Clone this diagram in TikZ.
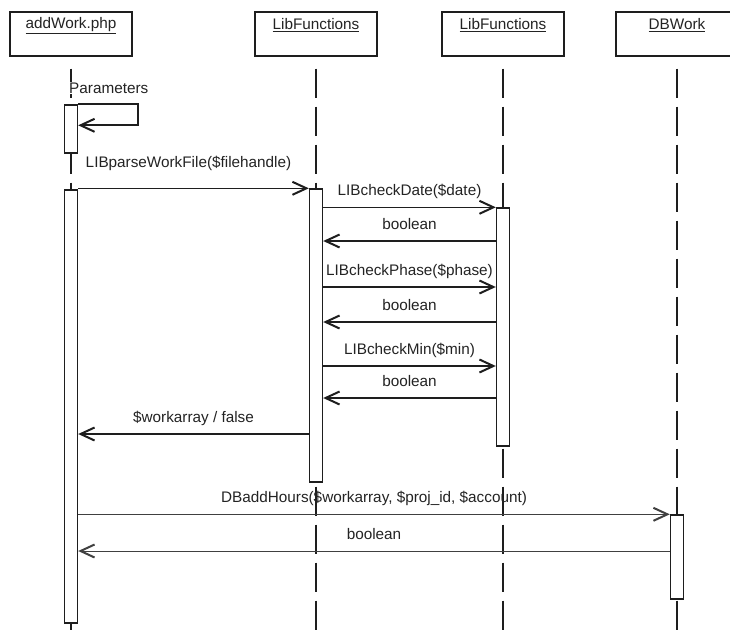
\documentclass[tikz,border=0pt]{standalone}
\usepackage{fontspec}
\setmainfont{Liberation Sans}
\usepackage{tikz}
\usetikzlibrary{arrows.meta, positioning, calc}
\definecolor{linegray}{RGB}{30, 30, 30}
\definecolor{textgray}{RGB}{35, 35, 35}

\begin{document}
\begin{tikzpicture}[
    x=1pt, y=-1pt,
    every node/.style={font=\fontsize{15.3}{18}\selectfont, text=textgray},
    objbox/.style={rectangle, draw=linegray, line width=1.4pt, minimum width=122pt, minimum height=44pt, inner sep=0pt},
    lifeline/.style={draw=linegray, line width=1.1pt, dash pattern=on 29pt off 9pt},
    activation/.style={rectangle, draw=linegray, fill=white, line width=1.4pt, minimum width=13pt, inner sep=0pt},
    msg/.style={-{Straight Barb[length=14pt, width=13pt, line width=2pt]}, line width=1.5pt, draw=linegray},
    thinmsg/.style={msg, line width=0.9pt, draw=linegray!85},
    msglabel/.style={inner sep=0pt, text height=11pt, text depth=3pt, midway, above=8pt}
]
\useasboundingbox (0,0) rectangle (730,632);
\coordinate (bottom) at (0,632);

% Objects
\node[objbox] (addwork) at (71,34) {};
\node[objbox] (libfun1) at (316,34) {};
\node[objbox] (libfun2) at (503,34) {};
\node[objbox] (dbwork) at (677,34) {};
\node[inner sep=0pt] at ([yshift=-14pt]addwork.north) {\underline{addWork.php}};
\node[inner sep=0pt] at ([yshift=-14pt]libfun1.north) {\underline{LibFunctions}};
\node[inner sep=0pt] at ([yshift=-14pt]libfun2.north) {\underline{LibFunctions}};
\node[inner sep=0pt] at ([yshift=-14pt]dbwork.north) {\underline{DBWork}};

% Lifelines
\draw[lifeline] ([yshift=-12pt]addwork.south) -- (addwork.south |- bottom);
\draw[lifeline] ([yshift=-12pt]libfun1.south) -- (libfun1.south |- bottom);
\draw[lifeline] ([yshift=-12pt]libfun2.south) -- (libfun2.south |- bottom);
\draw[lifeline] ([yshift=-12pt]dbwork.south) -- (dbwork.south |- bottom);

% Activations
\node[activation, minimum height=48pt] (actparam) at (71,129) {};
\node[activation, minimum height=433pt] (actmain) at (71,406.5) {};
\node[activation, minimum height=293pt] (actlib1) at (316,335.5) {};
\node[activation, minimum height=238pt] (actlib2) at (503,327) {};
\node[activation, minimum height=84pt] (actdb) at (677,557) {};

% Message levels
\coordinate (yb1) at (0,241);
\coordinate (yphase) at (0,287);
\coordinate (yb2) at (0,322);
\coordinate (ymin) at (0,366);
\coordinate (yb3) at (0,398);
\coordinate (ywork) at (0,434);
\coordinate (ydbret) at (0,551);

% Self call
\node[anchor=west, inner sep=1pt, fill=white] (paramlabel) at (68,88) {Parameters};
\draw[msg, line width=1.8pt] (actparam.north east) -- ++(60,0) |- ([yshift=-21pt]actparam.north east);

% Calls and returns
\draw[msg] (actmain.east |- actlib1.north) -- (actlib1.north west)
    node[msglabel, above=17pt, xshift=-5pt] {LIBparseWorkFile(\$filehandle)};
\draw[msg] (actlib1.east |- actlib2.north) -- (actlib2.north west)
    node[msglabel] {LIBcheckDate(\$date)};
\draw[msg] (actlib2.west |- yb1) -- (actlib1.east |- yb1)
    node[msglabel] {boolean};
\draw[msg] (actlib1.east |- yphase) -- (actlib2.west |- yphase)
    node[msglabel] {LIBcheckPhase(\$phase)};
\draw[msg] (actlib2.west |- yb2) -- (actlib1.east |- yb2)
    node[msglabel] {boolean};
\draw[msg] (actlib1.east |- ymin) -- (actlib2.west |- ymin)
    node[msglabel] {LIBcheckMin(\$min)};
\draw[msg] (actlib2.west |- yb3) -- (actlib1.east |- yb3)
    node[msglabel] {boolean};
\draw[msg] (actlib1.west |- ywork) -- (actmain.east |- ywork)
    node[msglabel] {\$workarray / false};
\draw[thinmsg] (actmain.east |- actdb.north) -- (actdb.north west)
    node[msglabel] {DBaddHours(\$workarray, \$proj\_id, \$account)};
\draw[thinmsg] (actdb.west |- ydbret) -- (actmain.east |- ydbret)
    node[msglabel] {boolean};

\end{tikzpicture}
\end{document}
